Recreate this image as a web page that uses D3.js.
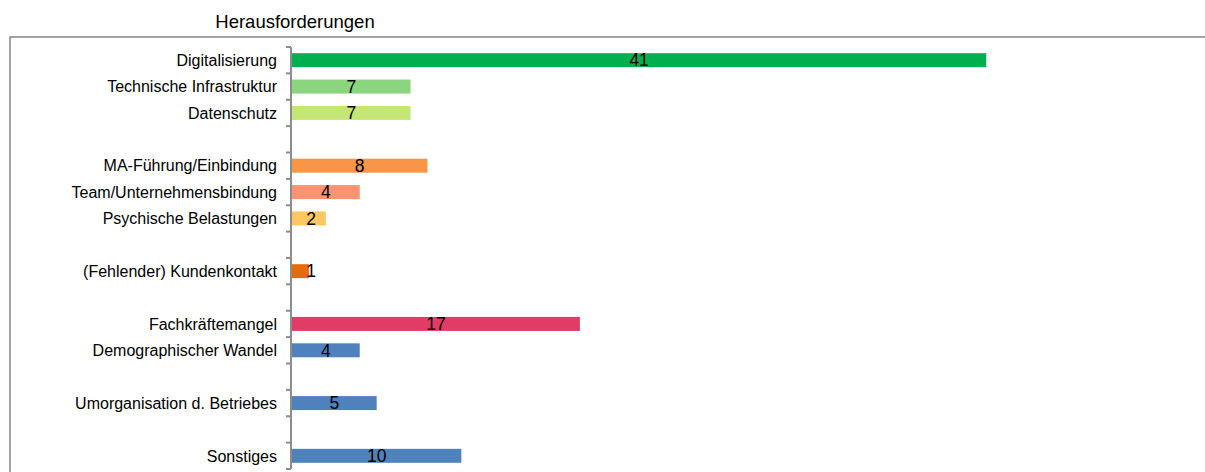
<!DOCTYPE html>
<html>
<head>
<meta charset="utf-8">
<script src="https://cdn.jsdelivr.net/npm/d3@7"></script>
<style>
  html, body { margin: 0; padding: 0; background: #fff; }
  svg { display: block; font-family: "Liberation Sans", Arial, sans-serif; }
</style>
</head>
<body>
<svg id="chart" width="1205" height="472"></svg>
<script>
// ---- data ----
const title = "Herausforderungen";
const categories = [
  "Digitalisierung", "Technische Infrastruktur", "Datenschutz", "",
  "MA-Führung/Einbindung", "Team/Unternehmensbindung", "Psychische Belastungen", "",
  "(Fehlender) Kundenkontakt", "",
  "Fachkräftemangel", "Demographischer Wandel", "",
  "Umorganisation d. Betriebes", "",
  "Sonstiges"
];
const values = [41, 7, 7, null, 8, 4, 2, null, 1, null, 17, 4, null, 5, null, 10];
const colors = [
  "#00b050", "#8bd57e", "#c3e676", null,
  "#f79646", "#fc9473", "#fdc862", null,
  "#e46c0a", null,
  "#e23b65", "#4f81bd", null,
  "#4f81bd", null,
  "#4f81bd"
];

// ---- layout ----
const svg = d3.select("#chart");
const axisX = 291;
const plotTop = 47, plotBottom = 469;

// frame
svg.append("rect")
  .attr("x", 10).attr("y", 37)
  .attr("width", 1210).attr("height", 500)
  .attr("fill", "none").attr("stroke", "#8c8c8c").attr("stroke-width", 1.6);

// title
svg.append("text")
  .attr("x", 295).attr("y", 28)
  .attr("text-anchor", "middle")
  .attr("font-size", 18.5)
  .attr("fill", "#000")
  .text(title);

const idx = d3.range(categories.length);
const slot = d3.scaleBand().domain(idx).range([plotTop, plotBottom]).padding(0);
const x = d3.scaleLinear().domain([0, 45]).range([axisX + 1, 1054]);

const barH = slot.bandwidth() * 0.53;

// bars
const data = idx.filter(i => values[i] != null).map(i => ({ i, v: values[i], c: colors[i] }));
svg.append("g").selectAll("rect").data(data).join("rect")
  .attr("x", x(0))
  .attr("y", d => slot(d.i) + (slot.bandwidth() - barH) / 2)
  .attr("width", d => x(d.v) - x(0))
  .attr("height", barH)
  .attr("fill", d => d.c);

// value labels
svg.append("g").selectAll("text").data(data).join("text")
  .attr("x", d => Math.max((x(0) + x(d.v)) / 2, x(0) + 19))
  .attr("y", d => slot(d.i) + slot.bandwidth() / 2)
  .attr("dy", "0.36em")
  .attr("text-anchor", "middle")
  .attr("font-size", 17.5)
  .attr("fill", "#000")
  .text(d => d.v);

// y axis line and ticks at slot boundaries
const axisG = svg.append("g").attr("stroke", "#8c8c8c").attr("stroke-width", 2);
axisG.append("line")
  .attr("x1", axisX).attr("x2", axisX)
  .attr("y1", plotTop).attr("y2", plotBottom);
const tickYs = idx.map(i => slot(i)).concat([plotBottom]);
axisG.selectAll("line.tick").data(tickYs).join("line")
  .attr("class", "tick")
  .attr("x1", axisX - 5).attr("x2", axisX)
  .attr("y1", d => d).attr("y2", d => d);

// category labels
svg.append("g").selectAll("text").data(idx.filter(i => categories[i] !== "")).join("text")
  .attr("x", axisX - 14)
  .attr("y", i => slot(i) + slot.bandwidth() / 2)
  .attr("dy", "0.36em")
  .attr("text-anchor", "end")
  .attr("font-size", 16)
  .attr("fill", "#000")
  .text(i => categories[i]);
</script>
</body>
</html>
